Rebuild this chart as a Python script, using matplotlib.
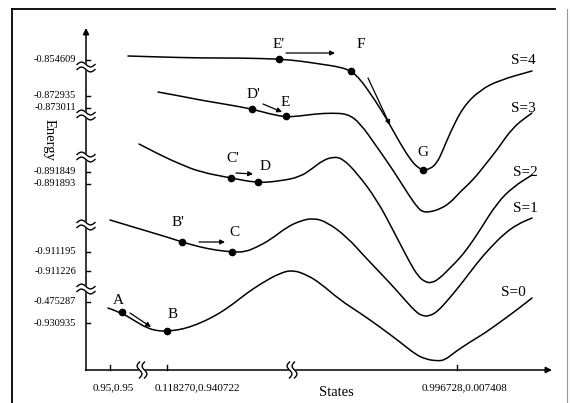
import numpy as np
import matplotlib
matplotlib.use('Agg')
import matplotlib.pyplot as plt
from matplotlib.path import Path
from matplotlib.patches import PathPatch

# schematic drawn in picture units (x right, y down), 570 x 403
curve_names = ['S=4', 'S=3', 'S=2', 'S=1', 'S=0']

s4_x = [128, 160, 200, 240, 279, 300, 320, 340, 351, 360, 370, 380, 390, 400, 410, 417, 423, 430, 437, 443, 450, 463, 480, 500, 532]
s4_y = [56, 57, 58, 58, 59, 61, 64, 67, 71, 79, 93, 108, 125, 143, 159, 167, 170, 169, 163, 150, 133, 107, 90, 80, 71]

s3_x = [158, 180, 200, 230, 252, 270, 286, 300, 315, 332, 348, 360, 377, 393, 410, 418, 423, 430, 440, 450, 460, 473, 485, 497, 513, 532]
s3_y = [92, 96, 100, 105, 109, 114, 117, 116, 114, 113, 114, 123, 147, 170, 197, 208, 212, 212, 209, 203, 192, 180, 165, 150, 127, 113]

s2_x = [139, 160, 180, 200, 231, 258, 280, 300, 313, 322, 332, 342, 357, 377, 393, 410, 418, 425, 432, 440, 448, 460, 470, 480, 497, 513, 532]
s2_y = [144, 155, 164, 172, 178, 183, 181, 177, 168, 161, 157, 158, 173, 200, 230, 263, 276, 282, 283, 278, 270, 258, 245, 230, 203, 187, 175]

s1_x = [110, 130, 150, 170, 182, 200, 215, 232, 245, 257, 270, 287, 300, 313, 327, 347, 365, 390, 405, 415, 422, 430, 438, 448, 462, 477, 490, 505, 518, 532]
s1_y = [220, 226, 232, 238, 242, 247, 250, 252, 252, 247, 240, 227, 221, 218, 222, 237, 257, 283, 300, 311, 316, 316, 311, 300, 283, 263, 248, 233, 224, 218]

s0_x = [108, 122, 135, 147, 158, 167, 178, 190, 205, 220, 233, 247, 262, 280, 293, 307, 320, 340, 360, 380, 400, 415, 425, 437, 445, 455, 470, 485, 503, 518, 532]
s0_y = [308, 313, 321, 328, 331, 331, 330, 327, 321, 313, 304, 293, 283, 273, 270, 275, 283, 300, 313, 327, 342, 354, 359, 361, 360, 352, 342, 333, 320, 309, 298]

curve_label_pos = [(523, 60), (523, 108), (525, 172), (525, 208), (513, 292)]

# states on the curves
point_names = ['A', 'B', "B'", 'C', "C'", 'D', "D'", 'E', "E'", 'F', 'G']
point_x = [122, 167, 182, 232, 231, 258, 252, 286, 279, 351, 423]
point_y = [312, 331, 242, 252, 178, 182, 109, 116, 59, 71, 170]
point_label_x = [118, 173, 178, 234, 233, 265, 253, 285, 279, 361, 423]
point_label_y = [301, 314, 223, 233, 159, 166, 95, 102, 45, 45, 153]

# transitions (start -> end)
arrows = [((130, 313), (151, 327)), ((199, 242), (225, 242)), ((236, 173), (253, 174)),
          ((263, 104), (282, 112)), ((286, 53), (335, 53)), ((368, 78), (390, 125))]

energy_ticks = ['-0.854609', '-0.872935', '-0.873011', '-0.891849', '-0.891893',
                '-0.911195', '-0.911226', '-0.475287', '-0.930935']
energy_tick_y = [60, 96, 108, 172, 184, 252, 271, 302, 323]
y_breaks = [67, 115, 157, 225, 289]

state_ticks = ['0.95,0.95', '0.118270,0.940722', '0.996728,0.007408']
state_tick_x = [110, 167, 457]
state_label_x = [93, 155, 422]
x_breaks = [142, 292]

plt.rc('font', family=['Liberation Serif', 'DejaVu Serif'])

fig = plt.figure(figsize=(5.7, 4.03), dpi=100)
ax = fig.add_axes([0, 0, 1, 1])
ax.set_xlim(0, 570)
ax.set_ylim(403, 0)
ax.axis('off')

# frame of the scanned figure
ax.plot([12, 12], [403, 9], color='k', lw=1.3)
ax.plot([12, 555], [9, 9], color='k', lw=1.3)
ax.plot([567, 567], [9, 403], color='0.6', lw=0.8)

# axes with arrows
x0, y0 = 86, 370
ax.annotate('', xy=(x0, 28), xytext=(x0, y0 + 0.5),
            arrowprops=dict(arrowstyle='-|>', lw=1.1, color='k', mutation_scale=9, shrinkA=0, shrinkB=0))
ax.annotate('', xy=(552, y0), xytext=(x0 - 0.5, y0),
            arrowprops=dict(arrowstyle='-|>', lw=1.1, color='k', mutation_scale=9, shrinkA=0, shrinkB=0))

for lab, yy in zip(energy_ticks, energy_tick_y):
    ax.plot([x0, x0 + 4], [yy, yy], color='k', lw=1)
    ax.text(76, yy, lab, ha='right', va='center', fontsize=7.5)

for lab, xt, xl in zip(state_ticks, state_tick_x, state_label_x):
    ax.plot([xt, xt], [y0, y0 - 5], color='k', lw=1)
    ax.text(xl, 388, lab, ha='left', va='center', fontsize=8)

# axis break marks
t = np.linspace(-1, 1, 40)
wig = 2.4 * np.sin(np.pi * t)
for yb in y_breaks:
    xs = x0 + 9 * t
    ax.fill_between(xs, yb - 2.5 + wig, yb + 2.5 + wig, color='white', zorder=3)
    ax.plot(xs, yb - 2.5 + wig, color='k', lw=1, zorder=4)
    ax.plot(xs, yb + 2.5 + wig, color='k', lw=1, zorder=4)
for xb in x_breaks:
    ys = y0 + 8 * t
    ax.fill_betweenx(ys, xb - 2.5 + wig, xb + 2.5 + wig, color='white', zorder=3)
    ax.plot(xb - 2.5 + wig, ys, color='k', lw=1, zorder=4)
    ax.plot(xb + 2.5 + wig, ys, color='k', lw=1, zorder=4)

ax.text(336, 393, 'States', ha='center', va='center', fontsize=10.5)
ax.text(49, 140, 'Energy', ha='center', va='center', fontsize=10.5, rotation=-90)


def smooth_path(xs, ys):
    # quadratic bezier through midpoints, the read points act as control points
    pts = list(zip(xs, ys))
    verts = [pts[0]]
    codes = [Path.MOVETO]
    for i in range(1, len(pts) - 1):
        mid = ((pts[i][0] + pts[i + 1][0]) / 2, (pts[i][1] + pts[i + 1][1]) / 2)
        verts += [pts[i], mid]
        codes += [Path.CURVE3, Path.CURVE3]
    verts.append(pts[-1])
    codes.append(Path.LINETO)
    return Path(verts, codes)


# spin curves
curves = [(s4_x, s4_y), (s3_x, s3_y), (s2_x, s2_y), (s1_x, s1_y), (s0_x, s0_y)]
for (cx, cy), name, pos in zip(curves, curve_names, curve_label_pos):
    ax.add_patch(PathPatch(smooth_path(cx, cy), fill=False, edgecolor='k', lw=1.1, capstyle='round'))
    ax.text(pos[0], pos[1], name, ha='center', va='center', fontsize=11)

ax.plot(point_x, point_y, 'o', color='k', markersize=4.5, zorder=5)
for name, lx, ly in zip(point_names, point_label_x, point_label_y):
    ax.text(lx, ly, name, ha='center', va='center', fontsize=11)

for (sx, sy), (ex, ey) in arrows:
    ax.annotate('', xy=(ex, ey), xytext=(sx, sy),
                arrowprops=dict(arrowstyle='-|>', lw=0.9, color='k', mutation_scale=7, shrinkA=0, shrinkB=0))

fig.savefig('out.png', dpi=100)
